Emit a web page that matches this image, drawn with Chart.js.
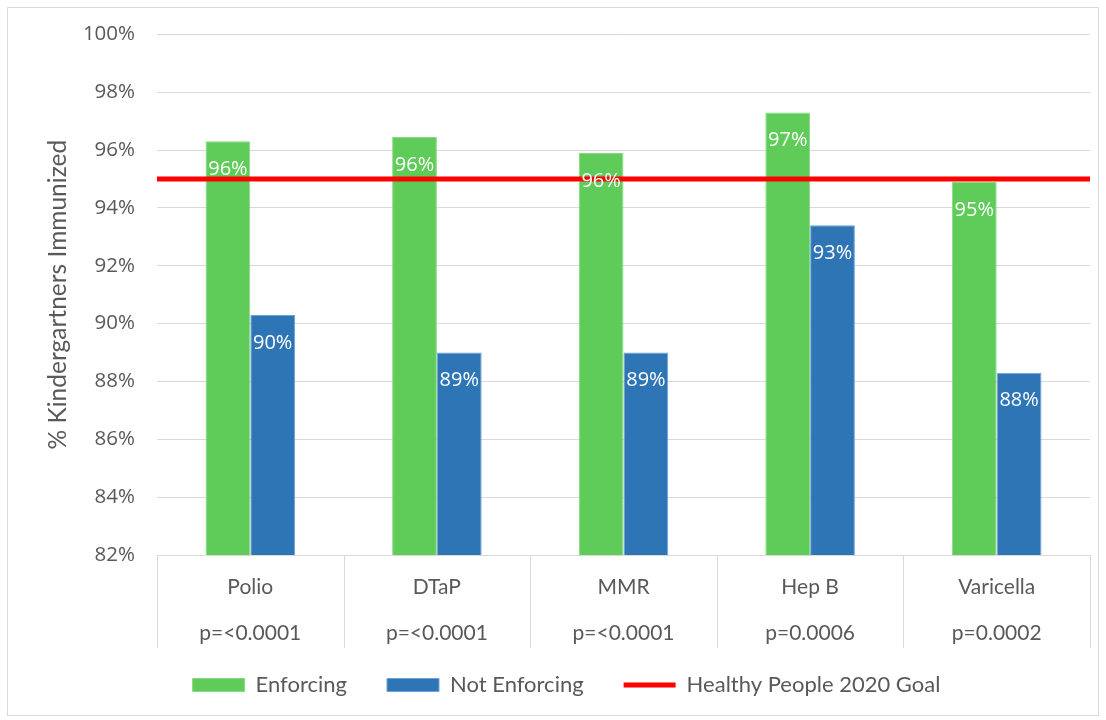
<!DOCTYPE html>
<html>
<head>
<meta charset="utf-8">
<script src="https://cdn.jsdelivr.net/npm/chart.js@4/dist/chart.umd.min.js"></script>
<style>
  html, body { margin: 0; padding: 0; background: #fff; overflow: hidden; }
  canvas { display: block; }
</style>
</head>
<body>
<canvas id="grafico" width="1106" height="720"></canvas>
<script>
// dados
const vacinas = ['Polio', 'DTaP', 'MMR', 'Hep B', 'Varicella'];
const valoresP = ['p=<0.0001', 'p=<0.0001', 'p=<0.0001', 'p=0.0006', 'p=0.0002'];
const enforcing = [96.3, 96.45, 95.9, 97.3, 94.9];
const notEnforcing = [90.3, 89.0, 89.0, 93.4, 88.3];
const metaHP2020 = [95, 95];
const ticksY = [82, 84, 86, 88, 90, 92, 94, 96, 98, 100];

const cinza = '#595959';
const linhaGrade = '#d9d9d9';

// moldura em volta do gráfico
const moldura = {
  id: 'moldura',
  beforeDraw(chart) {
    const c = chart.ctx;
    c.save();
    c.strokeStyle = linhaGrade;
    c.lineWidth = 1;
    c.strokeRect(7.5, 7.5, 1091, 708);
    c.restore();
    // ajusta a posição da legenda (o padding dela também separa os itens)
    const lg = chart.legend;
    if (!lg._ajustada) {
      lg.top -= 14;
      lg.bottom -= 14;
      lg.left += 18;
      lg.right += 18;
      lg._ajustada = true;
    }
  }
};

// linhas verticais da tabela embaixo do eixo x
const tabela = {
  id: 'tabela',
  afterDraw(chart) {
    const s = chart.scales.x;
    const c = chart.ctx;
    c.save();
    c.strokeStyle = linhaGrade;
    c.lineWidth = 1;
    for (let i = 0; i <= vacinas.length; i++) {
      const x = Math.round(s.getPixelForValue(i - 0.5)) + 0.5;
      c.beginPath();
      c.moveTo(x, s.top);
      c.lineTo(x, s.top + 93);
      c.stroke();
    }
    c.restore();
  }
};

// rótulos dentro das barras
const rotulos = {
  id: 'rotulos',
  afterDatasetsDraw(chart) {
    const c = chart.ctx;
    c.save();
    c.fillStyle = '#ffffff';
    c.font = '20px "Open Sans"';
    c.textAlign = 'center';
    c.textBaseline = 'middle';
    [0, 1].forEach(i => {
      const meta = chart.getDatasetMeta(i);
      meta.data.forEach((bar, j) => {
        const v = chart.data.datasets[i].data[j].y;
        c.fillText(Math.round(v) + '%', bar.x, bar.y + 28);
      });
    });
    c.restore();
  }
};

const ctx = document.getElementById('grafico').getContext('2d');
new Chart(ctx, {
  type: 'bar',
  data: {
    datasets: [
      {
        label: 'Enforcing',
        data: enforcing.map((y, i) => ({ x: i, y: y })),
        backgroundColor: '#5fcb58',
        borderColor: '#8ad884',
        borderWidth: 1,
        categoryPercentage: 0.48,
        barPercentage: 1.0,
        pointStyle: 'rect',
        order: 1
      },
      {
        label: 'Not Enforcing',
        data: notEnforcing.map((y, i) => ({ x: i, y: y })),
        backgroundColor: '#2e75b6',
        borderColor: '#6ea3d8',
        borderWidth: 1,
        categoryPercentage: 0.48,
        barPercentage: 1.0,
        pointStyle: 'rect',
        order: 1
      },
      {
        type: 'line',
        label: 'Healthy People 2020 Goal',
        data: metaHP2020.map((y, i) => ({ x: i * vacinas.length - 0.5, y: y })),
        borderColor: '#ff0000',
        backgroundColor: '#ff0000',
        borderWidth: 5,
        pointRadius: 0,
        pointStyle: 'line',
        order: 0
      }
    ]
  },
  options: {
    responsive: false,
    animation: false,
    devicePixelRatio: 1,
    layout: { padding: { left: 7, right: 16, top: 32, bottom: 0 } },
    scales: {
      x: {
        type: 'linear',
        offset: false,
        min: -0.5,
        max: vacinas.length - 0.5,
        afterBuildTicks(scale) {
          scale.ticks = vacinas.map((v, i) => ({ value: i }));
        },
        afterFit(scale) { scale.height = 93; },
        grid: { display: false },
        border: { display: true, color: linhaGrade },
        ticks: {
          color: cinza,
          font: { family: 'Lato', size: 21, lineHeight: 2.2 },
          padding: 1,
          maxRotation: 0,
          autoSkip: false,
          callback: v => [vacinas[v], valoresP[v]]
        }
      },
      y: {
        min: ticksY[0],
        max: ticksY[ticksY.length - 1],
        afterBuildTicks(scale) {
          scale.ticks = ticksY.map(v => ({ value: v }));
        },
        afterFit(scale) { scale.width = 150; },
        grid: { color: linhaGrade, drawTicks: false },
        border: { display: false },
        ticks: {
          color: cinza,
          font: { family: 'Open Sans', size: 20.5 },
          padding: 22,
          callback: v => v + '%'
        },
        title: {
          display: true,
          text: '% Kindergartners Immunized',
          color: cinza,
          font: { family: 'Lato', size: 24.5 },
          padding: { top: 36, bottom: 0 }
        }
      }
    },
    plugins: {
      legend: {
        position: 'bottom',
        labels: {
          color: cinza,
          font: { family: 'Lato', size: 22 },
          usePointStyle: true,
          pointStyleWidth: 52,
          boxHeight: 13,
          padding: 40,
          sort: (a, b) => a.datasetIndex - b.datasetIndex
        }
      },
      tooltip: { enabled: false }
    }
  },
  plugins: [moldura, tabela, rotulos]
});
</script>
</body>
</html>
